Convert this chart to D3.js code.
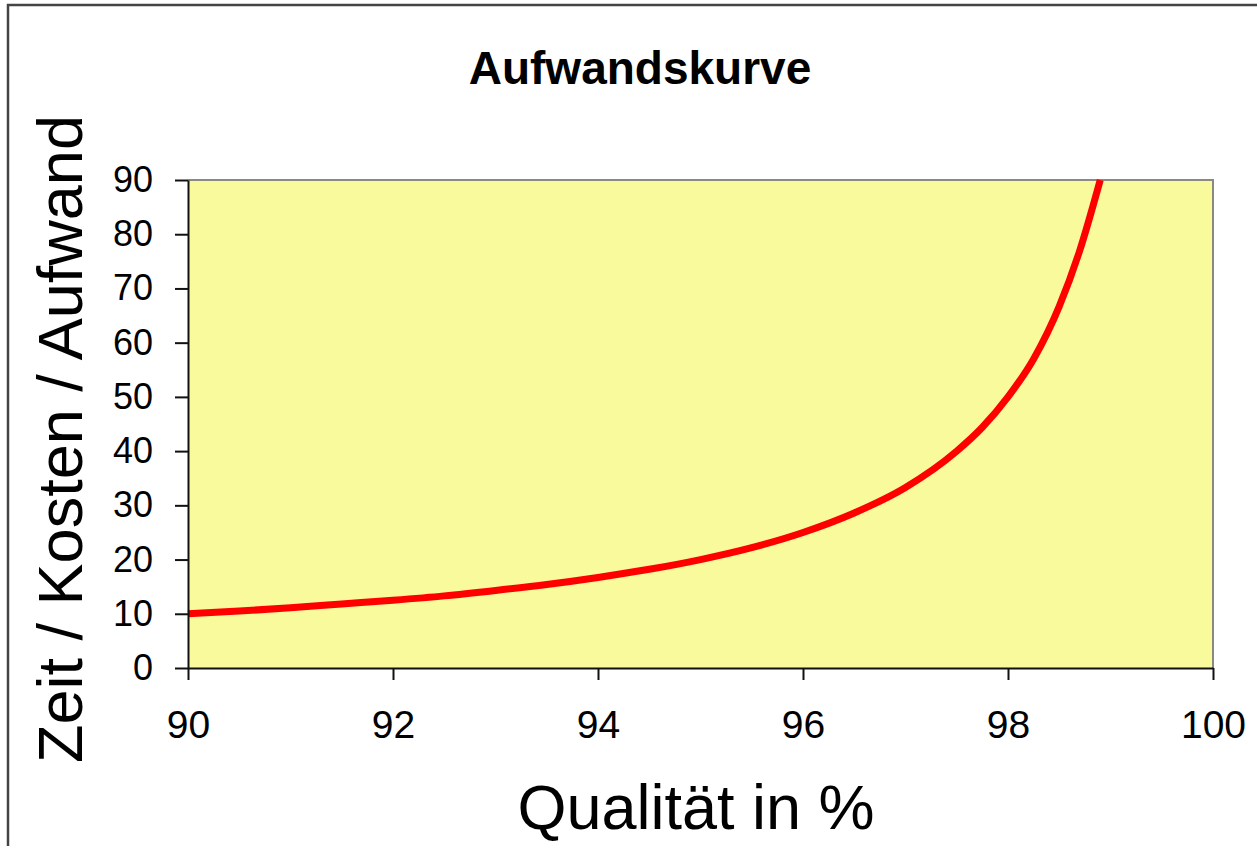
<!DOCTYPE html>
<html>
<head>
<meta charset="utf-8">
<script src="https://cdn.jsdelivr.net/npm/d3@7"></script>
<style>
  body { margin: 0; background: #fff; }
  svg { display: block; font-family: "Liberation Sans", Arial, sans-serif; }
</style>
</head>
<body>
<div class="chart"></div>
<script>
// values
const quality = [90, 90.5, 91, 91.5, 92, 92.5, 93, 93.5, 94, 94.5, 95, 95.5, 96, 96.5, 97, 97.5, 97.75, 98, 98.25, 98.5, 98.7, 98.9];
const effort = [10, 10.5, 11.1, 11.8, 12.5, 13.3, 14.3, 15.4, 16.7, 18.2, 20, 22.2, 25, 28.6, 33.3, 40, 44.4, 50, 57, 66.7, 77, 90];
const xTicks = [90, 92, 94, 96, 98, 100];
const yTicks = [0, 10, 20, 30, 40, 50, 60, 70, 80, 90];

const W = 1257, H = 846;
const margin = {top: 180, right: 44, bottom: 178, left: 188};
const width = W - margin.left - margin.right;
const height = H - margin.top - margin.bottom;

const svg = d3.select('.chart')
    .append('svg')
    .attr('width', W)
    .attr('height', H);

// outer frame
svg.append('rect')
    .attr('x', 8).attr('y', 5)
    .attr('width', W + 10).attr('height', H + 10)
    .attr('fill', 'none')
    .attr('stroke', '#444')
    .attr('stroke-width', 2.5);

svg.append('text')
    .attr('x', 640).attr('y', 84)
    .attr('text-anchor', 'middle')
    .attr('font-size', 46)
    .attr('font-weight', 'bold')
    .text('Aufwandskurve');

const group = svg.append('g')
    .attr('transform', `translate(${margin.left},${margin.top})`);

const xScale = d3.scaleLinear().domain([90, 100]).range([0, width]);
const yScale = d3.scaleLinear().domain([0, 90]).range([height, 0]);

// plot background
group.append('rect')
    .attr('width', width).attr('height', height)
    .attr('fill', '#f9fa9c');

group.append('path')
    .attr('d', `M0,0H${width}V${height}`)
    .attr('fill', 'none')
    .attr('stroke', '#8a8a80')
    .attr('stroke-width', 2);

const line = d3.line()
    .x((d, i) => xScale(quality[i]))
    .y(d => yScale(d))
    .curve(d3.curveMonotoneX);

group.append('path')
    .datum(effort)
    .attr('d', line)
    .attr('fill', 'none')
    .attr('stroke', '#ff0000')
    .attr('stroke-width', 7)
    .attr('stroke-linejoin', 'round');

const x_axis = d3.axisBottom(xScale)
    .tickValues(xTicks)
    .tickSize(12)
    .tickPadding(30)
    .tickSizeOuter(0);

const y_axis = d3.axisLeft(yScale)
    .tickValues(yTicks)
    .tickSize(13)
    .tickPadding(22)
    .tickSizeOuter(0);

const xg = group.append('g')
    .attr('transform', `translate(0,${height})`)
    .call(x_axis);
xg.selectAll('text').attr('font-size', 39).attr('fill', '#000');

const yg = group.append('g').call(y_axis);
yg.selectAll('text').attr('font-size', 36).attr('fill', '#000');

group.selectAll('.domain, .tick line')
    .attr('stroke', '#111')
    .attr('stroke-width', 2);

svg.append('text')
    .attr('x', 696).attr('y', 829)
    .attr('text-anchor', 'middle')
    .attr('font-size', 63)
    .text('Qualität in %');

svg.append('text')
    .attr('transform', 'translate(82,439) rotate(-90)')
    .attr('text-anchor', 'middle')
    .attr('font-size', 63)
    .text('Zeit / Kosten / Aufwand');
</script>
</body>
</html>
